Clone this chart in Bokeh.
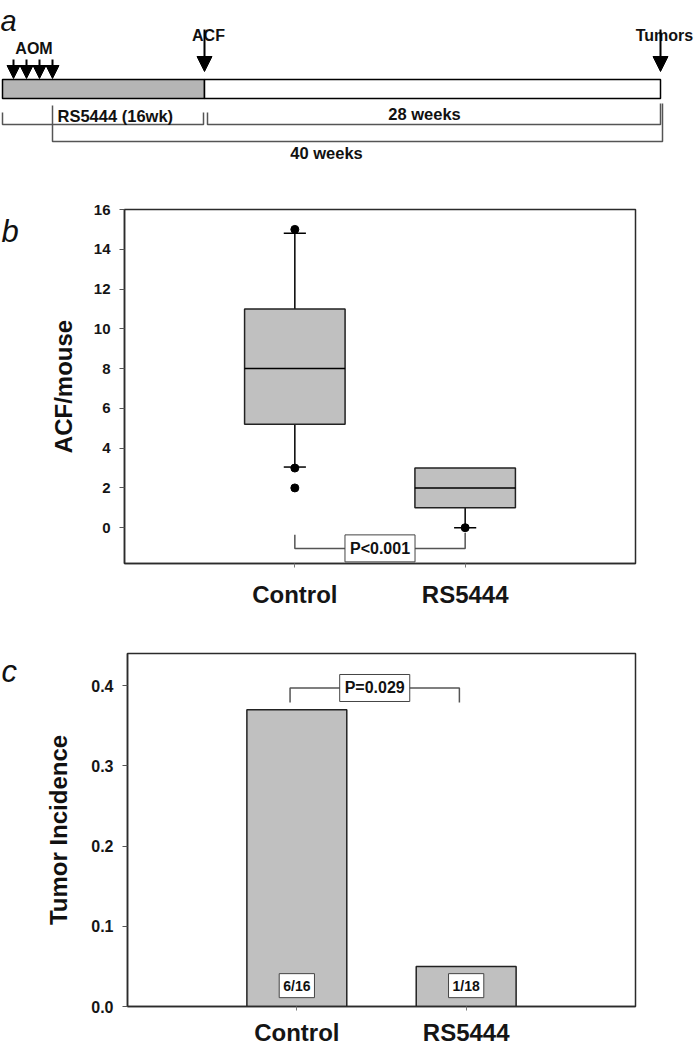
from bokeh.plotting import figure
from bokeh.layouts import row
from bokeh.models import Range1d, FixedTicker, Label, Arrow, NormalHead, PrintfTickFormatter, ColumnDataSource
from bokeh.core.properties import value
from bokeh.embed import file_html
from bokeh.resources import INLINE

FONT = "Liberation Sans"

# ---------------- Panel a : study schematic (schematic timeline units) ----------------
tl_start = 2
tl_drug_end = 204          # end of RS5444 diet / ACF assessment
tl_end = 660               # tumour assessment
aom_x = [13, 26, 39, 52]   # four weekly AOM injections
event_names = ["ACF", "Tumors"]
event_x = [204, 660]
span_labels = ["RS5444 (16wk)", "28 weeks", "40 weeks"]

# ---------------- Panel b : ACF per mouse (box plot) ----------------
groups = ["Control", "RS5444"]
group_x = [1, 2]
box_q1 = [5.2, 1.0]
box_med = [8.0, 2.0]
box_q3 = [11.0, 3.0]
whisk_lo = [3.05, 0.0]
whisk_hi = [14.8, 3.0]
outlier_x = [1, 1, 1, 2]
outlier_y = [15.0, 3.0, 2.0, 0.0]
acf_ticks = [0, 2, 4, 6, 8, 10, 12, 14, 16]
acf_p = "P<0.001"

# ---------------- Panel c : tumour incidence ----------------
incidence = [0.37, 0.05]
incidence_counts = ["6/16", "1/18"]
inc_ticks = [0.0, 0.1, 0.2, 0.3, 0.4]
inc_p = "P=0.029"

W = 694
LW = 30          # width of the strip holding the panel letter
LINE = "#2b2b2b"
BRK = "#555555"
GREY = "#c0c0c0"
TXT = "#111111"

# ======================= Panel a =======================
HA = 180
pa = figure(width=W, height=HA, x_range=Range1d(0, W), y_range=Range1d(HA, 0),
            output_backend="svg", toolbar_location=None, x_axis_location=None,
            y_axis_location=None, min_border=0)
pa.grid.visible = False
pa.outline_line_color = None

pa.text(x=[0], y=[20], text=["a"], text_font=value(FONT), text_font_style="italic",
        text_font_size="29px", text_baseline="alphabetic", text_align="left", text_color=TXT)

# timeline bar
pa.quad(left=[tl_start, tl_drug_end], right=[tl_drug_end, tl_end], top=[79, 79], bottom=[98, 98],
        fill_color=["#b5b5b5", "white"], line_color="black", line_width=1.5)

# AOM arrows
pa.text(x=[(aom_x[0] + aom_x[-1]) / 2 + 1], y=[48], text=["AOM"], text_font=value(FONT),
        text_font_style="bold", text_font_size="16px", text_align="center",
        text_baseline="alphabetic", text_color=TXT)
for ax_ in aom_x:
    pa.add_layout(Arrow(x_start=ax_, y_start=59, x_end=ax_, y_end=78, line_width=2, line_color="black",
                        end=NormalHead(size=13, fill_color="black", line_color="black")))

# event arrows
ev_text_x = [208, 664]
for ex, tx, name in zip(event_x, ev_text_x, event_names):
    pa.text(x=[tx], y=[35], text=[name], text_font=value(FONT), text_font_style="bold",
            text_font_size="16px", text_align="center", text_baseline="alphabetic", text_color=TXT)
    pa.add_layout(Arrow(x_start=ex, y_start=29, x_end=ex, y_end=71, line_width=2, line_color="black",
                        end=NormalHead(size=15, fill_color="black", line_color="black")))

# brackets
pa.multi_line(xs=[[tl_start, tl_start, tl_drug_end - 1, tl_drug_end - 1],
                  [tl_drug_end + 3, tl_drug_end + 3, tl_end, tl_end],
                  [aom_x[-1], aom_x[-1], tl_end + 2, tl_end + 2]],
              ys=[[112, 124, 124, 112], [112, 124, 124, 103], [105, 141, 141, 103]],
              line_color=BRK, line_width=1.5)
pa.text(x=[aom_x[-1] + 5, (tl_drug_end + tl_end) / 2 - 8, (aom_x[-1] + tl_end) / 2 - 30],
        y=[115, 113, 152], text=span_labels, text_font=value(FONT), text_font_style="bold",
        text_font_size="16.5px", text_align=["left", "center", "center"], text_baseline="middle",
        text_color=TXT)


def style(p, ylabel, ticks, tick_size, label_standoff, tick_fmt=None):
    p.grid.visible = False
    p.outline_line_color = LINE
    p.outline_line_width = 1.5
    for a in p.axis:
        a.axis_line_color = LINE
        a.axis_line_width = 1.5
        a.major_tick_in = 0
        a.minor_tick_line_color = None
        a.major_label_text_font = FONT
        a.major_label_text_font_style = "bold"
        a.major_label_text_color = "#151515"
    p.xaxis.ticker = FixedTicker(ticks=group_x)
    p.xaxis.major_label_overrides = {gx: g for gx, g in zip(group_x, groups)}
    p.xaxis.major_label_text_font_size = "24px"
    p.xaxis.major_tick_out = 4
    p.xaxis.major_tick_line_color = "#777777"
    p.yaxis.ticker = FixedTicker(ticks=ticks)
    if tick_fmt:
        p.yaxis.formatter = tick_fmt
    p.yaxis.major_tick_out = 5
    p.yaxis.major_tick_line_color = "#555555"
    p.yaxis.major_label_text_font_size = tick_size
    p.yaxis.major_label_standoff = 9
    p.yaxis.axis_label = ylabel
    p.yaxis.axis_label_text_font = FONT
    p.yaxis.axis_label_text_font_style = "bold"
    p.yaxis.axis_label_text_font_size = "24px"
    p.yaxis.axis_label_text_color = TXT
    p.yaxis.axis_label_standoff = label_standoff


def letter_strip(letter, y_range, height, top, bottom, y):
    s = figure(width=LW, height=height, x_range=Range1d(0, LW), y_range=y_range,
               output_backend="svg", toolbar_location=None, x_axis_location=None,
               y_axis_location=None, min_border_left=0, min_border_right=0,
               min_border_top=top, min_border_bottom=bottom)
    s.grid.visible = False
    s.outline_line_color = None
    s.text(x=[1], y=[y], text=[letter], text_font=value(FONT), text_font_style="italic",
           text_font_size="31px", text_baseline="alphabetic", text_align="left", text_color=TXT)
    return s


# ======================= Panel b =======================
HB, TB, BB = 440, 29, 57
pb = figure(width=W - LW, height=HB, x_range=Range1d(0, 3), y_range=Range1d(-1.8, 16),
            output_backend="svg", toolbar_location=None,
            min_border_left=124 - LW, min_border_right=59, min_border_top=TB, min_border_bottom=BB)
style(pb, "ACF/mouse", acf_ticks, "15px", 14)
pb.xaxis.major_label_standoff = 13

BOX_W = 0.59
CAP_W = 0.13
src = ColumnDataSource(dict(
    x=group_x, q1=box_q1, med=box_med, q3=box_q3,
    left=[g - BOX_W / 2 for g in group_x], right=[g + BOX_W / 2 for g in group_x]))
# whiskers + caps only where a whisker extends beyond the box
hi_idx = [i for i in range(len(group_x)) if whisk_hi[i] > box_q3[i]]
lo_idx = [i for i in range(len(group_x)) if whisk_lo[i] < box_q1[i]]
cap_hi = ColumnDataSource(dict(x=[group_x[i] for i in hi_idx], y=[whisk_hi[i] for i in hi_idx],
                               cl=[group_x[i] - CAP_W / 2 for i in hi_idx], cr=[group_x[i] + CAP_W / 2 for i in hi_idx],
                               q=[box_q3[i] for i in hi_idx]))
cap_lo = ColumnDataSource(dict(x=[group_x[i] for i in lo_idx], y=[whisk_lo[i] for i in lo_idx],
                               cl=[group_x[i] - CAP_W / 2 for i in lo_idx], cr=[group_x[i] + CAP_W / 2 for i in lo_idx],
                               q=[box_q1[i] for i in lo_idx]))
for cs in (cap_hi, cap_lo):
    pb.segment(x0="x", y0="q", x1="x", y1="y", source=cs, line_color="black", line_width=1.5)
    pb.segment(x0="cl", y0="y", x1="cr", y1="y", source=cs, line_color="black", line_width=1.5)
pb.vbar(x="x", bottom="q1", top="q3", width=BOX_W, source=src, fill_color=GREY,
        line_color="#222222", line_width=1.5)
pb.segment(x0="left", y0="med", x1="right", y1="med", source=src, line_color="black", line_width=1.5)
pb.scatter(x=outlier_x, y=outlier_y, size=8, marker="circle", fill_color="black", line_color="black")

pb.multi_line(xs=[[group_x[0], group_x[0], group_x[1], group_x[1]]],
              ys=[[-0.35, -1.04, -1.04, -0.25]], line_color=BRK, line_width=1.5)
pb.add_layout(Label(x=sum(group_x) / 2, y=-1.04, text=acf_p, text_align="center", text_baseline="middle",
                    text_font=FONT, text_font_style="bold", text_font_size="16px", text_color=TXT,
                    background_fill_color="white", border_line_color="#444444", border_line_width=1,
                    padding=5))
lb = letter_strip("b", pb.y_range, HB, TB, BB, 14.9)

# ======================= Panel c =======================
HC, TC, BC = 428, 33, 40
pc = figure(width=W - LW, height=HC, x_range=Range1d(0, 3), y_range=Range1d(0, 0.44),
            output_backend="svg", toolbar_location=None,
            min_border_left=127 - LW, min_border_right=59, min_border_top=TC, min_border_bottom=BC)
style(pc, "Tumor Incidence", inc_ticks, "16px", 16, PrintfTickFormatter(format="%.1f"))
pc.xaxis.major_label_standoff = 8

pc.vbar(x=group_x, top=incidence, bottom=0, width=BOX_W, fill_color=GREY,
        line_color="#222222", line_width=1.5)
BRK_SHIFT = -0.04
pc.multi_line(xs=[[group_x[0] + BRK_SHIFT, group_x[0] + BRK_SHIFT, group_x[1] + BRK_SHIFT, group_x[1] + BRK_SHIFT]],
              ys=[[0.379, 0.397, 0.397, 0.379]], line_color=BRK, line_width=1.5)
pc.add_layout(Label(x=sum(group_x) / 2 + BRK_SHIFT, y=0.397, text=inc_p, text_align="center",
                    text_baseline="middle", text_font=FONT, text_font_style="bold", text_font_size="16px",
                    text_color=TXT, background_fill_color="white", border_line_color="#444444",
                    border_line_width=1, padding=5))
for gx, cnt in zip(group_x, incidence_counts):
    pc.add_layout(Label(x=gx, y=0.026, text=cnt, text_align="center", text_baseline="middle",
                        text_font=FONT, text_font_style="bold", text_font_size="14px", text_color=TXT,
                        background_fill_color="white", border_line_color="#444444",
                        border_line_width=1, padding=4))
lc = letter_strip("c", pc.y_range, HC, TC, BC, 0.417)

open("out.html", "w").write(file_html([pa, row(lb, pb, spacing=0), row(lc, pc, spacing=0)], INLINE))
